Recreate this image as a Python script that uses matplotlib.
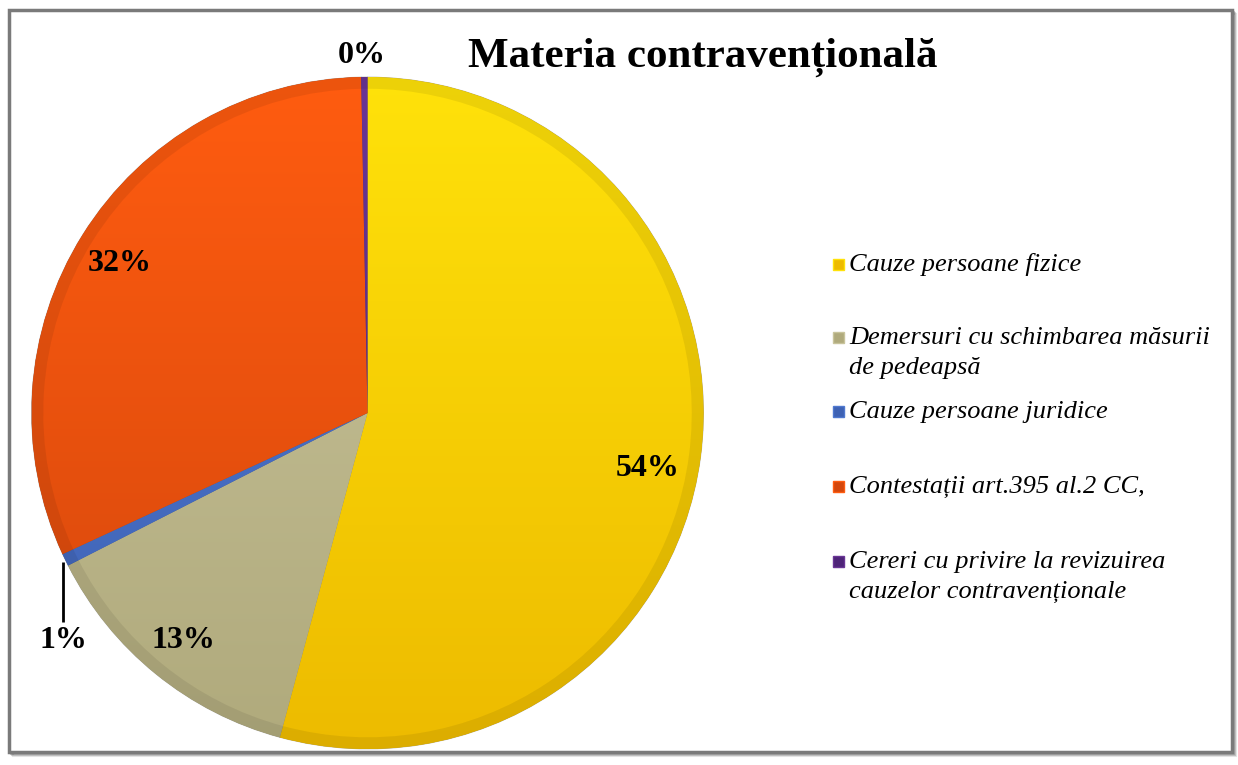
import numpy as np
import matplotlib
matplotlib.use("Agg")
import matplotlib.pyplot as plt
from matplotlib.patches import Rectangle, Wedge
from matplotlib.colors import to_rgb

# Share of cases by category (percent)
categories = [
    "Cauze persoane fizice",
    "Demersuri cu schimbarea măsurii\nde pedeapsă",
    "Cauze persoane juridice",
    "Contestații art.395 al.2 CC,",
    "Cereri cu privire la revizuirea\ncauzelor contravenționale",
]
shares = [54.2, 13.3, 0.6, 31.6, 0.3]

# Slice shading: (top colour, bottom colour)
top_colors = ["#FFE20A", "#C9C49C", "#5079D0", "#FF5C10", "#6A3596"]
bottom_colors = ["#EDBB00", "#B0AA7C", "#3E62B4", "#D4470C", "#4E2478"]

title = "Materia contravențională"

W, H = 1238, 765
fig = plt.figure(figsize=(W / 100, H / 100), dpi=100)
fig.patch.set_facecolor("white")

# Outer frame with a soft shadow on the right and bottom
for k, a in enumerate([0.10, 0.16, 0.22, 0.30]):
    off = 4 - k
    fig.patches.append(Rectangle(((9 + off) / W, (H - 752 - off) / H),
                                 (1232 - 9) / W, (752 - 10) / H,
                                 transform=fig.transFigure, fill=False,
                                 edgecolor=(0, 0, 0, a), lw=1.5, zorder=0))
fig.patches.append(Rectangle((9 / W, (H - 752) / H), (1232 - 9) / W, (752 - 10) / H,
                             transform=fig.transFigure, facecolor="white",
                             edgecolor="#7A7A7A", lw=2.5, zorder=1))

# Pie axes: centre (367.5, 413) px, radius 336 px
cx, cy, R = 367.5, 413, 336
ax = fig.add_axes([(cx - R) / W, (H - cy - R) / H, 2 * R / W, 2 * R / H])
ax.set_zorder(2)
ax.patch.set_alpha(0)

wedges, _ = ax.pie(shares, colors=bottom_colors, startangle=90, counterclock=False,
                   radius=1.0, wedgeprops=dict(linewidth=0.6, edgecolor=(0, 0, 0, 0.25)))
ax.set_xlim(-1, 1)
ax.set_ylim(-1, 1)
ax.set_aspect("auto")
ax.axis("off")

# Vertical gradient inside each slice, plus a darker rim for a bevelled look
n = 256
for w, c0, c1 in zip(wedges, top_colors, bottom_colors):
    a0, a1 = np.array(to_rgb(c0)), np.array(to_rgb(c1))
    t = np.linspace(0, 1, n)[:, None]
    grad = (a0 * (1 - t) + a1 * t)[:, None, :].repeat(2, axis=1)
    im = ax.imshow(grad, extent=[-1, 1, -1, 1], origin="upper", aspect="auto",
                   interpolation="bilinear", zorder=1.5)
    im.set_clip_path(w)
    w.set_zorder(1)
    ax.add_patch(Wedge((0, 0), 1.0, w.theta1, w.theta2, width=0.035,
                       facecolor=(0, 0, 0, 0.07), edgecolor="none", zorder=1.6))

# Percentage labels
label_pos = [(0.835, -0.164), (-0.549, -0.676), (-0.906, -0.676),
             (-0.737, 0.446), (-0.016, 1.065)]
for v, (x, y) in zip(shares, label_pos):
    ax.text(x, y, f"{v:.0f}%", ha="center", va="center", fontsize=23,
            fontweight="bold", family="Liberation Serif", zorder=5, clip_on=False)

# Leader line for the smallest labelled slice
ax.plot([-0.906, -0.906], [-0.443, -0.622], color="black", lw=2, zorder=5,
        solid_capstyle="butt", clip_on=False)

# Title
fig.text(703 / W, 1 - 57 / H, title, ha="center", va="center", fontsize=31,
         fontweight="bold", family="Liberation Serif", zorder=5)

# Legend: bevelled square marker + italic label lines
legend_first_line = [265, 338, 412, 487, 562]
line_step = 30
for y0, lab, c0, c1 in zip(legend_first_line, categories, top_colors, bottom_colors):
    fig.patches.append(Rectangle((833 / W, (H - y0 - 5) / H), 11 / W, 11 / H,
                                 transform=fig.transFigure, facecolor=c1,
                                 edgecolor=c0, lw=1, zorder=5))
    for i, line in enumerate(lab.split("\n")):
        fig.text(849 / W, 1 - (y0 + i * line_step) / H, line, ha="left", va="center",
                 fontsize=19, style="italic", family="Liberation Serif", zorder=5)

fig.savefig("out.png", dpi=100)
